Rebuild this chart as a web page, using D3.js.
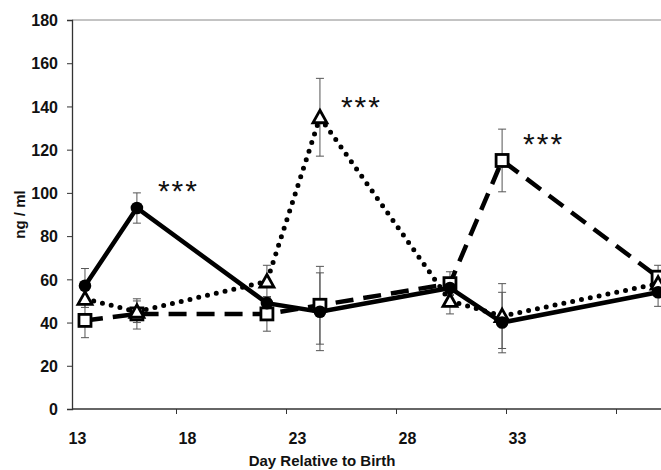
<!DOCTYPE html>
<html><head><meta charset="utf-8">
<script src="https://cdn.jsdelivr.net/npm/d3@7"></script>
<style>
html,body{margin:0;padding:0;background:#fff;}
svg text{font-family:"Liberation Sans",Arial,sans-serif;font-weight:bold;fill:#111;}
</style></head>
<body>
<script>
// x positions
const days = [13.34, 15.70, 21.61, 24.02, 29.93, 32.30, 39.39];
const xTickLabels = [13, 18, 23, 28, 33];
const xTickMarks = [17.5, 22.5, 27.5, 32.5, 37.5];
const yTicks = [0, 20, 40, 60, 80, 100, 120, 140, 160, 180];

const circleVals  = [57, 93, 49, 45, 56, 40, 54];
const circleErr   = [8, 7, 3, 18, 3, 14, 6.5];
const triangleVals = [51, 45, 59, 135, 50, 43, 58];
const triangleErr  = [4, 5, 7.5, 18, 6, 15, 4];
const squareVals  = [41, 44, 44, 48, 58, 115, 61];
const squareErr   = [8, 7, 8, 18, 5.5, 14.5, 5.5];

const starDays = [15.70, 24.02, 32.30];
const starVals = [104, 143, 126];

const W = 661, H = 470;
const svg = d3.select("body").append("svg").attr("width", W).attr("height", H);

const x = d3.scaleLinear().domain([12.75, 39.75]).range([72, 666]);
const y = d3.scaleLinear().domain([0, 180]).range([409, 20]);

// plot border top
svg.append("line").attr("x1", x(12.75)).attr("x2", W).attr("y1", y(180)).attr("y2", y(180))
  .attr("stroke", "#888").attr("stroke-width", 1);

// y axis
const yAxis = svg.append("g").attr("transform", `translate(${x(12.75)},0)`)
  .call(d3.axisLeft(y).tickValues(yTicks).tickSize(5).tickPadding(9).tickFormat(d3.format("d")));
yAxis.select(".domain").attr("stroke", "#333").attr("stroke-width", 1.3);
yAxis.selectAll(".tick line").attr("stroke", "#333");
yAxis.selectAll("text").style("font-size", "16px").attr("dy", "0.36em");

// x axis line + ticks
const xg = svg.append("g").attr("transform", `translate(0,${y(0)})`);
xg.append("line").attr("x1", x(12.75)).attr("x2", W).attr("y1", 0).attr("y2", 0)
  .attr("stroke", "#333").attr("stroke-width", 1.3);
xg.selectAll("line.tk").data(xTickMarks).enter().append("line").attr("class", "tk")
  .attr("x1", d => x(d)).attr("x2", d => x(d)).attr("y1", 0).attr("y2", 5)
  .attr("stroke", "#333");
xg.selectAll("text").data(xTickLabels).enter().append("text")
  .attr("x", d => x(d)).attr("y", 35).attr("text-anchor", "middle")
  .style("font-size", "16px").text(d => d);

// titles
svg.append("text").attr("x", 322).attr("y", 466).attr("text-anchor", "middle")
  .style("font-size", "15px").text("Day Relative to Birth");
svg.append("text").attr("transform", `translate(25,${(y(0)+y(180))/2}) rotate(-90)`)
  .attr("text-anchor", "middle").style("font-size", "15px").text("ng / ml");

const series = [
  {vals: squareVals, err: squareErr, dash: "18,10", cap: "butt", marker: "square"},
  {vals: triangleVals, err: triangleErr, dash: "0,9", cap: "round", marker: "triangle"},
  {vals: circleVals, err: circleErr, dash: null, cap: "butt", marker: "circle"}
];

// error bars
series.forEach(s => {
  const g = svg.append("g");
  days.forEach((d, i) => {
    const cx = x(d), lo = y(s.vals[i] - s.err[i]), hi = y(s.vals[i] + s.err[i]);
    g.append("line").attr("x1", cx).attr("x2", cx).attr("y1", lo).attr("y2", hi).attr("stroke", "#555").attr("stroke-width", 1);
    g.append("line").attr("x1", cx-4).attr("x2", cx+4).attr("y1", lo).attr("y2", lo).attr("stroke", "#555").attr("stroke-width", 1);
    g.append("line").attr("x1", cx-4).attr("x2", cx+4).attr("y1", hi).attr("y2", hi).attr("stroke", "#555").attr("stroke-width", 1);
  });
});

// lines
const line = d3.line();
series.forEach(s => {
  const pts = days.map((d, i) => [x(d), y(s.vals[i])]);
  const p = svg.append("path").attr("d", line(pts)).attr("fill", "none")
    .attr("stroke", "#000").attr("stroke-width", s.dash === "0,9" ? 5 : 4.5).attr("stroke-linecap", s.cap)
    .attr("stroke-linejoin", "miter");
  if (s.dash) p.attr("stroke-dasharray", s.dash);
});

// markers
series.forEach(s => {
  days.forEach((d, i) => {
    const cx = x(d), cy = y(s.vals[i]);
    if (s.marker === "circle") {
      svg.append("circle").attr("cx", cx).attr("cy", cy).attr("r", 6.3).attr("fill", "#000");
    } else if (s.marker === "square") {
      svg.append("rect").attr("x", cx-6).attr("y", cy-6).attr("width", 12).attr("height", 12)
        .attr("fill", "#fff").attr("stroke", "#000").attr("stroke-width", 2.8);
    } else {
      svg.append("path").attr("d", `M${cx},${cy-7}L${cx+7},${cy+5.5}L${cx-7},${cy+5.5}Z`)
        .attr("fill", "#fff").attr("stroke", "#000").attr("stroke-width", 2.8).attr("stroke-linejoin", "miter");
    }
  });
});

// significance stars
svg.selectAll("text.star").data(starDays).enter().append("text").attr("class", "star")
  .attr("x", d => x(d) + 21).attr("y", (d, i) => y(starVals[i]) + 17)
  .style("font-size", "30px").style("font-weight", "normal").style("letter-spacing", "2px")
  .attr("fill", "#111").text("***");
</script>
</body></html>
